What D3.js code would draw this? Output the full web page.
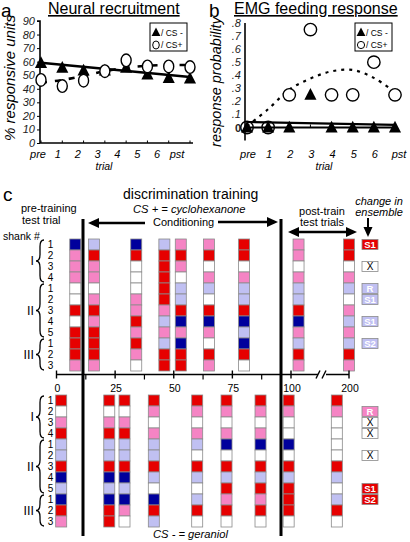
<!DOCTYPE html>
<html><head><meta charset="utf-8">
<script src="https://cdn.jsdelivr.net/npm/d3@7"></script>
<style>body{margin:0;background:#fff}svg{display:block}text{font-family:"Liberation Sans",Arial,sans-serif}</style>
</head><body><svg id="c" width="410" height="542"></svg>
<script>
// ---------- data: panel a ----------
const trials = ["pre","1","2","3","4","5","6","pst"];
const neuralCSminus = [59,55.5,53.5,53.5,55.5,50.5,48,47.5];
const neuralCSplus = [46.5,42,46,53,61,56.5,56.5,56];
const neuralTrendMinus = [59.2,48.7];            // linear fit at pre and pst
const neuralTrendPlus = [44.5,46.5,49.5,53,55.5,57,57.5,57.5];
const neuralTicks = [0,10,20,30,40,50,60,70,80,90];
// ---------- data: panel b ----------
const emgCSminus = [0,0,0,0.25,0,0,0,0];
const emgCSplus = [0,0,0.25,0.75,0.25,0.25,0.5,0.25];
const emgTrendMinus = [0.042,0.02];
const emgTrendPlus = [0.01,0.14,0.29,0.375,0.43,0.44,0.38,0.27];
const emgTicks = [0,0.1,0.2,0.3,0.4,0.5,0.6,0.7,0.8];
const emgTickLabels = ["0",".1",".2",".3",".4",".5",".6",".7",".8"];
// ---------- data: panel c ----------
const shankNames = ["I","II","III"];
const shankSizes = [4,5,3];
const rowLabels = ["1","2","3","4","1","2","3","4","5","1","2","3"];
const axisTicks = [0,25,50,75,100,200];
const minorTicks = [12.5,37.5,62.5,87.5];
// CS+ (cyclohexanone) columns: trial number and unit code per row
const plusTrials = [8,16,34,46,53,65,80,113,200];
const plusCols = ["DPPPWWRWRRRP","LRPPWPRPRRRP","DRWWWPPRPRPW","LRRRRRPLPLRR","PRPWLLRDPDRR","PRWPLWRDPWRP","RRWPLLRDLDRW","PPWPLLRDPLRP","RRWPLWPLPLRP"];
const plusChanges = [[0,"S1","R"],[2,"X","W"],[4,"R","L"],[5,"S1","L"],[7,"S1","L"],[9,"S2","L"]];
// CS- (geraniol) columns
const minusTrials = [2,22.5,29,41.5,60,72.5,87,99,179];
const minusCols = ["RWPRLLRDLDRP","RWPRLLRDLDRR","RWPRLLRDLDPW","RPWPLLRLWDRL","RPWPLWRLWLRW","RPWPDWRLRPRW","RPWPDWRLRPRW","RPWWDWRLRRRW","RPWWWWRLWLRW"];
const minusChanges = [[1,"R","P"],[2,"X","W"],[3,"X","W"],[5,"X","W"],[8,"S1","R"],[9,"S2","R"]];
const colorMap = {D:"#00009c", L:"#c0c0f2", W:"#ffffff", P:"#f584c4", R:"#e60000"};

const svg = d3.select("#c");

function tri(g, x, y, s){ g.append("path").attr("d",`M${x},${y-s*0.62}L${x+s*0.55},${y+s*0.45}L${x-s*0.55},${y+s*0.45}Z`).attr("fill","#000"); }
function arrowHead(g,x,y,dir,len=10,hw=4.5){
  let p;
  if(dir==="left") p=[[x,y],[x+len,y-hw],[x+len,y+hw]];
  if(dir==="right") p=[[x,y],[x-len,y-hw],[x-len,y+hw]];
  if(dir==="down") p=[[x,y],[x-hw,y-len],[x+hw,y-len]];
  g.append("path").attr("d","M"+p.map(d=>d.join(",")).join("L")+"Z").attr("fill","#000");
}

// ================= Panel a =================
const ga = svg.append("g");
const xA = d3.scalePoint().domain(trials).range([41,190]);
const xAlab = d3.scalePoint().domain(trials).range([38,177]);
const yA = d3.scaleLinear().domain([0,90]).range([143,21]);
ga.append("text").attr("x",1).attr("y",17).attr("font-size",19).text("a");
ga.append("text").attr("x",48).attr("y",14).attr("font-size",16).attr("text-decoration","underline").text("Neural recruitment");
const axA = ga.append("g").attr("transform","translate(40,0)").call(d3.axisLeft(yA).tickValues(neuralTicks).tickSize(3).tickFormat(d3.format("d")));
axA.select(".domain").attr("stroke-width",1.6).attr("d",`M-3,${yA(90)}H0V${yA(0)}`);
axA.selectAll("text").attr("font-size",11).attr("font-style","italic").attr("font-family","Liberation Sans").attr("x",-5).attr("fill","#222");
ga.append("line").attr("x1",40).attr("x2",193).attr("y1",yA(0)).attr("y2",yA(0)).attr("stroke","#000").attr("stroke-width",1.6);
ga.selectAll(".xt").data(trials).join("line").attr("x1",d=>xA(d)).attr("x2",d=>xA(d)).attr("y1",yA(0)).attr("y2",yA(0)-2.5).attr("stroke","#000");
ga.selectAll(".xl").data(trials).join("text").attr("x",d=>xAlab(d)).attr("y",158).attr("text-anchor","middle").attr("font-size",11).attr("font-style","italic").text(d=>d);
ga.append("text").attr("x",104).attr("y",170).attr("text-anchor","middle").attr("font-size",10.5).attr("font-style","italic").text("trial");
ga.append("text").attr("transform","translate(15,78) rotate(-90)").attr("text-anchor","middle").attr("font-size",15).attr("font-style","italic").text("% responsive units");
// trend lines
ga.append("line").attr("x1",xA("pre")).attr("x2",xA("pst")).attr("y1",yA(neuralTrendMinus[0])).attr("y2",yA(neuralTrendMinus[1])).attr("stroke","#000").attr("stroke-width",2.4);
ga.append("path").attr("d",d3.line().x((d,i)=>xA(trials[i])).y(d=>yA(d)).curve(d3.curveMonotoneX)(neuralTrendPlus)).attr("fill","none").attr("stroke","#000").attr("stroke-width",2.6).attr("stroke-dasharray","6,8");
// markers
neuralCSminus.forEach((v,i)=>tri(ga,xA(trials[i]),yA(v),11));
neuralCSplus.forEach((v,i)=>ga.append("ellipse").attr("cx",xA(trials[i])).attr("cy",yA(v)).attr("rx",5).attr("ry",6.3).attr("fill","#fff").attr("stroke","#000").attr("stroke-width",1.4));
// legend
ga.append("rect").attr("x",150).attr("y",23).attr("width",37).attr("height",28).attr("fill","#fff").attr("stroke","#000").attr("stroke-width",1);
tri(ga,156,32.5,8);
ga.append("text").attr("x",161).attr("y",35.5).attr("font-size",8.5).text("/ CS -");
ga.append("ellipse").attr("cx",156).attr("cy",45).attr("rx",3.3).attr("ry",4).attr("fill","#fff").attr("stroke","#000");
ga.append("text").attr("x",161).attr("y",48).attr("font-size",8.5).text("/ CS+");

// ================= Panel b =================
const gb = svg.append("g");
const xB = d3.scalePoint().domain(trials).range([247,395]);
const yB = d3.scaleLinear().domain([0,0.8]).range([127.5,23]);
gb.append("text").attr("x",209).attr("y",17).attr("font-size",19).text("b");
gb.append("text").attr("x",234).attr("y",14).attr("font-size",16).attr("text-decoration","underline").text("EMG feeding response");
const axB = gb.append("g").attr("transform","translate(245,0)").call(d3.axisLeft(yB).tickValues(emgTicks).tickSize(0).tickFormat((d,i)=>emgTickLabels[i]));
axB.select(".domain").attr("stroke-width",1.6).attr("d",`M0,${yB(0.8)}V${yB(-0.1)}`);
axB.selectAll("text").attr("font-size",11).attr("font-style","italic").attr("font-family","Liberation Sans").attr("x",-4).attr("fill","#222");
axB.selectAll("text").filter((d,i)=>i===0).attr("font-weight","bold").attr("font-style","normal");
gb.append("line").attr("x1",245).attr("x2",397).attr("y1",yB(0)).attr("y2",yB(0)).attr("stroke","#000").attr("stroke-width",1.8);
gb.selectAll(".xt").data(trials).join("line").attr("x1",d=>xB(d)).attr("x2",d=>xB(d)).attr("y1",yB(0)).attr("y2",yB(0)-3).attr("stroke","#000");
gb.selectAll(".xl").data(trials).join("text").attr("x",(d,i)=>xB(d)+(i===7?4:1)).attr("y",158).attr("text-anchor","middle").attr("font-size",11).attr("font-style","italic").text(d=>d);
gb.append("text").attr("x",324).attr("y",170).attr("text-anchor","middle").attr("font-size",10.5).attr("font-style","italic").text("trial");
gb.append("text").attr("transform","translate(221,82) rotate(-90)").attr("text-anchor","middle").attr("font-size",14.5).attr("font-style","italic").text("response probability");
gb.append("line").attr("x1",xB("pre")).attr("x2",xB("pst")).attr("y1",yB(emgTrendMinus[0])).attr("y2",yB(emgTrendMinus[1])).attr("stroke","#000").attr("stroke-width",2.2);
gb.append("path").attr("d",d3.line().x((d,i)=>xB(trials[i])).y(d=>yB(d)).curve(d3.curveCatmullRom)(emgTrendPlus)).attr("fill","none").attr("stroke","#000").attr("stroke-width",2.2).attr("stroke-dasharray","3,5");
emgCSminus.forEach((v,i)=>tri(gb,xB(trials[i]),yB(v),11));
emgCSplus.forEach((v,i)=>gb.append("circle").attr("cx",xB(trials[i])).attr("cy",yB(v)).attr("r",6.2).attr("fill",v===0?"none":"#fff").attr("stroke","#000").attr("stroke-width",1.4));
gb.append("rect").attr("x",355).attr("y",23).attr("width",37).attr("height",28).attr("fill","#fff").attr("stroke","#000").attr("stroke-width",1);
tri(gb,361,32.5,8);
gb.append("text").attr("x",366).attr("y",35.5).attr("font-size",8.5).text("/ CS -");
gb.append("circle").attr("cx",361).attr("cy",45).attr("r",3.6).attr("fill","#fff").attr("stroke","#000");
gb.append("text").attr("x",366).attr("y",48).attr("font-size",8.5).text("/ CS+");

// ================= Panel c =================
const gc = svg.append("g");
const xC = d3.scaleLinear().domain([0,100,200]).range([56.5,291,349]);
const yTop = d3.scaleBand().domain(d3.range(12)).range([239,371]);
const yBot = d3.scaleBand().domain(d3.range(12)).range([395,527]);
const cw = 11;

function grid(trialsArr, cols, yS){
  cols.forEach((col,ci)=>{
    const x = xC(trialsArr[ci]) - cw/2;
    col.split("").forEach((code,ri)=>{
      gc.append("rect").attr("x",x).attr("y",yS(ri)).attr("width",cw).attr("height",yS.bandwidth())
        .attr("fill",colorMap[code]).attr("stroke","#8a8a8a").attr("stroke-width",0.8);
    });
  });
}
grid(plusTrials, plusCols, yTop);
grid(minusTrials, minusCols, yBot);

function changes(list, yS){
  list.forEach(([r,t,c])=>{
    const y = yS(r)+0.5;
    gc.append("rect").attr("x",362).attr("y",y).attr("width",16).attr("height",10).attr("fill",colorMap[c]).attr("stroke","#8a8a8a").attr("stroke-width",0.8);
    gc.append("text").attr("x",370).attr("y",y+8.5).attr("text-anchor","middle").attr("font-size",t==="X"?10:9.5).attr("font-weight",t==="X"?"normal":"bold").attr("fill",c==="W"?"#000":"#fff").text(t);
  });
}
changes(plusChanges, yTop);
changes(minusChanges, yBot);

function brace(x,y1,y2,w){
  const m=(y1+y2)/2, h=w/2;
  return `M${x},${y1}Q${x-h},${y1} ${x-h},${y1+h*1.6}L${x-h},${m-h*1.6}Q${x-h},${m} ${x-w},${m}Q${x-h},${m} ${x-h},${m+h*1.6}L${x-h},${y2-h*1.6}Q${x-h},${y2} ${x},${y2}`;
}
function shankLabels(yS){
  let r0=0;
  shankNames.forEach((nm,si)=>{
    const n=shankSizes[si];
    const y1=yS(r0)+1, y2=yS(r0+n-1)+yS.bandwidth()-1;
    gc.append("path").attr("d",brace(44,y1,y2,8)).attr("fill","none").attr("stroke","#000").attr("stroke-width",1.3);
    gc.append("text").attr("x",34).attr("y",(y1+y2)/2+4).attr("text-anchor","end").attr("font-family","Liberation Mono, monospace").attr("font-size",12.5).text(nm);
    r0+=n;
  });
  rowLabels.forEach((l,i)=>gc.append("text").attr("x",50.5).attr("y",yS(i)+yS.bandwidth()/2+3.5).attr("text-anchor","middle").attr("font-size",10).text(l));
}
shankLabels(yTop);
shankLabels(yBot);

// axis between grids
const axY = 374.5;
gc.append("path").attr("d",`M${xC(0)},${axY}H318M326,${axY}H${xC(200)}`).attr("stroke","#000").attr("stroke-width",1.6).attr("fill","none");
gc.append("path").attr("d",`M316,${axY+4}L320,${axY-4}M322,${axY+4}L326,${axY-4}`).attr("stroke","#000").attr("stroke-width",1.4);
gc.selectAll(".mt").data(axisTicks).join("line").attr("x1",d=>xC(d)).attr("x2",d=>xC(d)).attr("y1",axY-4).attr("y2",axY+4).attr("stroke","#000").attr("stroke-width",1.4);
gc.selectAll(".nt").data(minorTicks).join("line").attr("x1",d=>xC(d)).attr("x2",d=>xC(d)).attr("y1",axY).attr("y2",axY+5).attr("stroke","#000").attr("stroke-width",1.2);
gc.selectAll(".tl").data(axisTicks).join("text").attr("x",d=>xC(d)+1).attr("y",392).attr("text-anchor","middle").attr("font-size",10.5).text(d=>d);

// separators
[83,281].forEach(x=>gc.append("line").attr("x1",x).attr("x2",x).attr("y1",219).attr("y2",536).attr("stroke","#000").attr("stroke-width",3));

// texts
gc.append("text").attr("x",3).attr("y",201).attr("font-size",19).text("c");
gc.append("text").attr("x",123).attr("y",199).attr("font-size",14).text("discrimination training");
gc.append("text").attr("x",133).attr("y",213).attr("font-size",11.2).attr("font-style","italic").text("CS + = cyclohexanone");
gc.append("text").attr("x",153).attr("y",226).attr("font-size",11).text("Conditioning");
gc.append("text").attr("x",21).attr("y",212).attr("font-size",11).text("pre-training");
gc.append("text").attr("x",22).attr("y",224).attr("font-size",11).text("test trial");
gc.append("text").attr("x",3).attr("y",240).attr("font-size",10.5).text("shank #");
gc.append("text").attr("x",322).attr("y",215).attr("text-anchor","middle").attr("font-size",11).text("post-train");
gc.append("text").attr("x",322).attr("y",226).attr("text-anchor","middle").attr("font-size",11).text("test trials");
gc.append("text").attr("x",379).attr("y",205).attr("text-anchor","middle").attr("font-size",11).attr("font-style","italic").text("change in");
gc.append("text").attr("x",379).attr("y",216).attr("text-anchor","middle").attr("font-size",11).attr("font-style","italic").text("ensemble");
gc.append("text").attr("x",153).attr("y",538).attr("font-size",11.2).attr("font-style","italic").text("CS - = geraniol");

// arrows
gc.append("line").attr("x1",96).attr("x2",145).attr("y1",223).attr("y2",223).attr("stroke","#000").attr("stroke-width",2.4);
arrowHead(gc,88,223,"left",11,5);
gc.append("line").attr("x1",218).attr("x2",270).attr("y1",222).attr("y2",222).attr("stroke","#000").attr("stroke-width",2.4);
arrowHead(gc,278,222,"right",11,5);
gc.append("line").attr("x1",296).attr("x2",349).attr("y1",232).attr("y2",232).attr("stroke","#000").attr("stroke-width",2.4);
arrowHead(gc,288,232,"left",11,5);
arrowHead(gc,357,232,"right",11,5);
gc.append("line").attr("x1",368).attr("x2",368).attr("y1",218).attr("y2",228).attr("stroke","#000").attr("stroke-width",2);
arrowHead(gc,368,237,"down",10,4.5);
</script></body></html>
